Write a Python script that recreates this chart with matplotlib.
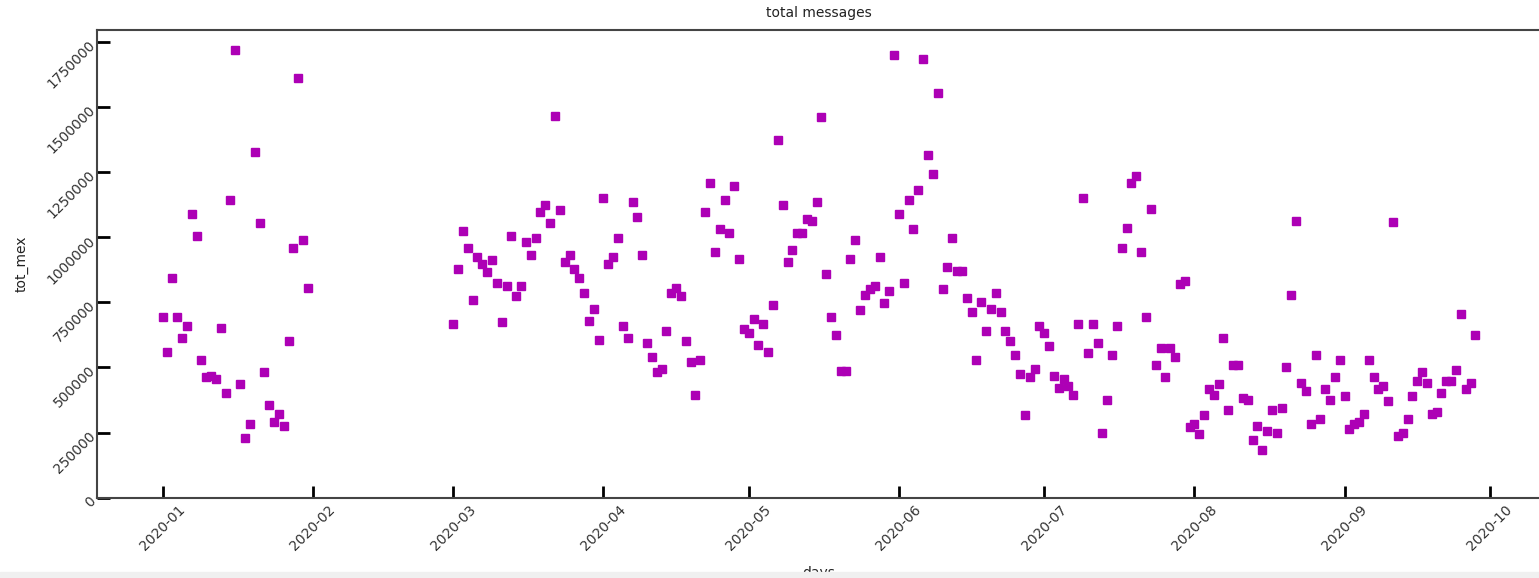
import datetime
import matplotlib
matplotlib.use("Agg")
import matplotlib.pyplot as plt
import matplotlib.dates as mdates
from matplotlib.ticker import MultipleLocator, FuncFormatter
from matplotlib.patches import Rectangle

plt.rcParams['font.family'] = 'DejaVu Sans'

# daily totals (messages), one list per month
jan = [693000, 560000, 845000, 693000, 614000, 660000, 1090000, 1004000, 527000, 462000,
       469000, 456000, 653000, 403000, 1142000, 1719000, 435000, 230000, 284000, 1328000,
       1056000, 481000, 357000, 290000, 323000, 277000, 601000, 957000, 1613000, 991000,
       805000]
mar = [666000, 878000, 1023000, 957000, 760000, 924000, 899000, 865000, 911000, 825000,
       674000, 812000, 1004000, 773000, 812000, 983000, 931000, 997000, 1096000, 1123000,
       1056000, 1467000, 1103000, 905000, 931000, 878000, 845000, 785000, 680000, 726000,
       607000]
apr = [1150000, 899000, 924000, 997000, 660000, 614000, 1136000, 1077000, 931000, 594000,
       542000, 481000, 495000, 641000, 785000, 805000, 773000, 601000, 521000, 395000,
       527000, 1096000, 1209000, 945000, 1031000, 1143000, 1016000, 1196000, 918000, 647000]
may = [634000, 687000, 588000, 666000, 561000, 739000, 1374000, 1123000, 905000, 951000,
       1016000, 1016000, 1070000, 1063000, 1136000, 1461000, 859000, 693000, 626000, 488000,
       488000, 918000, 991000, 720000, 779000, 800000, 812000, 925000, 746000, 793000,
       1699000]
jun = [1090000, 825000, 1143000, 1031000, 1182000, 1686000, 1316000, 1242000, 1554000, 800000,
       884000, 997000, 872000, 872000, 766000, 714000, 527000, 753000, 641000, 726000,
       785000, 714000, 641000, 601000, 548000, 475000, 316000, 462000, 495000, 660000]
jul = [634000, 581000, 469000, 422000, 456000, 429000, 395000, 666000, 1150000, 554000,
       666000, 594000, 250000, 376000, 548000, 660000, 957000, 1037000, 1209000, 1236000,
       945000, 693000, 1110000, 508000, 574000, 462000, 574000, 542000, 820000, 832000,
       270000]
aug = [284000, 244000, 316000, 416000, 395000, 435000, 614000, 336000, 508000, 508000,
       383000, 376000, 223000, 277000, 184000, 257000, 336000, 250000, 343000, 502000,
       779000, 1064000, 442000, 408000, 284000, 548000, 303000, 416000, 376000, 462000,
       527000]
sep = [389000, 263000, 284000, 290000, 323000, 527000, 462000, 416000, 429000, 370000,
       1058000, 238000, 250000, 303000, 389000, 449000, 481000, 442000, 323000, 330000,
       403000, 449000, 449000, 489000, 706000, 416000, 442000, 626000]

months = [(1, jan), (3, mar), (4, apr), (5, may), (6, jun), (7, jul), (8, aug), (9, sep)]

days = []
tot_mex = []
for m, vals in months:
    for i, v in enumerate(vals):
        days.append(datetime.date(2020, m, 1 + i))
        tot_mex.append(v)

W, H = 1539, 578
fig = plt.figure(figsize=(W / 100, H / 100), dpi=100)
ax = fig.add_axes([97 / W, (H - 497.7) / H, 1444 / W, 467.7 / H])

ax.plot(days, tot_mex, 's', color='#ad00b5', markersize=5.4, linestyle='none')

ax.set_ylim(bottom=0)
ax.yaxis.set_major_locator(MultipleLocator(250000))
ax.yaxis.set_major_formatter(FuncFormatter(lambda v, p: f"{int(v)}"))
ax.xaxis.set_major_locator(mdates.MonthLocator())
ax.xaxis.set_major_formatter(mdates.DateFormatter('%Y-%m'))

ax.tick_params(direction='in', length=9, width=2, color='black',
               labelsize=10, labelcolor='#333333')
for lab in ax.get_xticklabels():
    lab.set_rotation(45)
    lab.set_ha('center')
for lab in ax.get_yticklabels():
    lab.set_rotation(45)
    lab.set_ha('right')
    lab.set_rotation_mode('anchor')

for s in ax.spines.values():
    s.set_color('#444444')
    s.set_linewidth(1.5)

ax.set_title("total messages", fontsize=10, color='#222222', pad=9)
ax.set_xlabel("days", fontsize=10, color='#222222', labelpad=9)
ax.set_ylabel("tot_mex", fontsize=10, color='#222222', labelpad=12)

# grey strip at the bottom of the screenshot
fig.add_artist(Rectangle((0, 0), 1, 6 / H, transform=fig.transFigure,
                         color='#f0f0f0', zorder=10))

fig.savefig("out.png", dpi=100)
